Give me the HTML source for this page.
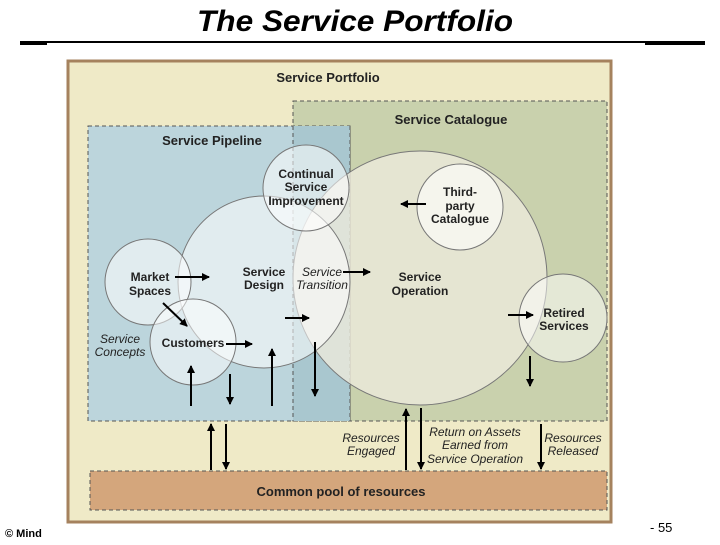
<!DOCTYPE html>
<html><head><meta charset="utf-8"><style>
body{margin:0;background:#fff;width:720px;height:540px;overflow:hidden;font-family:"Liberation Sans",sans-serif}
</style></head><body>
<svg width="720" height="540" xmlns="http://www.w3.org/2000/svg" font-family="Liberation Sans, sans-serif">
<defs>
<marker id="a" markerWidth="8" markerHeight="8" refX="7" refY="4" orient="auto" markerUnits="userSpaceOnUse"><path d="M0,0 L8,4 L0,8 z" fill="#000"/></marker>
</defs>
<text x="355" y="31" text-anchor="middle" font-size="30" font-weight="bold" font-style="italic" textLength="316" lengthAdjust="spacingAndGlyphs">The Service Portfolio</text>
<line x1="20" y1="42" x2="705" y2="42" stroke="#000" stroke-width="2"/>
<rect x="20" y="41" width="27" height="4" fill="#000"/>
<rect x="645" y="41" width="60" height="4" fill="#000"/>
<rect x="68" y="61" width="543" height="461" fill="#efeac7" stroke="#a5825e" stroke-width="3"/>
<text x="328" y="82" text-anchor="middle" font-size="13" font-weight="bold" fill="#222">Service Portfolio</text>
<rect x="293" y="101" width="314" height="320" fill="#c9d1ad" stroke="#555" stroke-dasharray="4,3"/>
<rect x="88" y="126" width="262" height="295" fill="#bcd5dc" stroke="#555" stroke-dasharray="4,3"/>
<rect x="293" y="126" width="57" height="295" fill="#a9c7cf"/>
<line x1="293" y1="126" x2="293" y2="421" stroke="#555" stroke-dasharray="4,3"/>
<line x1="350" y1="126" x2="350" y2="421" stroke="#555" stroke-dasharray="4,3"/>
<text x="451" y="124" text-anchor="middle" font-size="13" font-weight="bold" fill="#222">Service Catalogue</text>
<text x="212" y="145" text-anchor="middle" font-size="13" font-weight="bold" fill="#222">Service Pipeline</text>
<rect x="90" y="471" width="517" height="39" fill="#d4a67c" stroke="#555" stroke-dasharray="4,3"/>
<g stroke="#777" stroke-width="1">
<circle cx="420" cy="278" r="127" fill="#eceadb" fill-opacity="0.8"/>
<circle cx="264" cy="282" r="86" fill="#fff" fill-opacity="0.55"/>
<circle cx="306" cy="188" r="43" fill="#fff" fill-opacity="0.55"/>
<circle cx="460" cy="207" r="43" fill="#fff" fill-opacity="0.6"/>
<circle cx="148" cy="282" r="43" fill="#fff" fill-opacity="0.55"/>
<circle cx="193" cy="342" r="43" fill="#fff" fill-opacity="0.5"/>
<circle cx="563" cy="318" r="44" fill="#fff" fill-opacity="0.5"/>
</g>
<g font-size="12" font-weight="bold" fill="#222" text-anchor="middle">
<text x="306" y="178">Continual</text><text x="306" y="191">Service</text><text x="306" y="205">Improvement</text>
<text x="460" y="196">Third-</text><text x="460" y="210">party</text><text x="460" y="223">Catalogue</text>
<text x="150" y="281">Market</text><text x="150" y="295">Spaces</text>
<text x="264" y="276">Service</text><text x="264" y="289">Design</text>
<text x="420" y="281">Service</text><text x="420" y="295">Operation</text>
<text x="193" y="347">Customers</text>
<text x="564" y="317">Retired</text><text x="564" y="330">Services</text>
<text x="341" y="496" font-size="13">Common pool of resources</text>
</g>
<g font-size="12" font-style="italic" fill="#222" text-anchor="middle">
<text x="322" y="276">Service</text><text x="322" y="289">Transition</text>
<text x="120" y="343">Service</text><text x="120" y="356">Concepts</text>
<text x="371" y="442">Resources</text><text x="371" y="455">Engaged</text>
<text x="475" y="436">Return on Assets</text><text x="475" y="449">Earned from</text><text x="475" y="463">Service Operation</text>
<text x="573" y="442">Resources</text><text x="573" y="455">Released</text>
</g>
<g stroke="#000" stroke-width="2" marker-end="url(#a)">
<line x1="175" y1="277" x2="209" y2="277"/>
<line x1="163" y1="303" x2="187" y2="326"/>
<line x1="226" y1="344" x2="252" y2="344"/>
<line x1="285" y1="318" x2="309" y2="318"/>
<line x1="343" y1="272" x2="370" y2="272"/>
<line x1="426" y1="204" x2="401" y2="204"/>
<line x1="508" y1="315" x2="533" y2="315"/>
<line x1="191" y1="406" x2="191" y2="366"/>
<line x1="230" y1="374" x2="230" y2="404"/>
<line x1="272" y1="406" x2="272" y2="349"/>
<line x1="315" y1="342" x2="315" y2="396"/>
<line x1="530" y1="356" x2="530" y2="386"/>
<line x1="211" y1="470" x2="211" y2="424"/>
<line x1="226" y1="424" x2="226" y2="469"/>
<line x1="406" y1="470" x2="406" y2="409"/>
<line x1="421" y1="408" x2="421" y2="469"/>
<line x1="541" y1="424" x2="541" y2="469"/>
</g>
<text x="5" y="537" font-size="11" font-weight="bold">© Mind</text>
<text x="650" y="532" font-size="13">- 55</text>
</svg>
</body></html>
